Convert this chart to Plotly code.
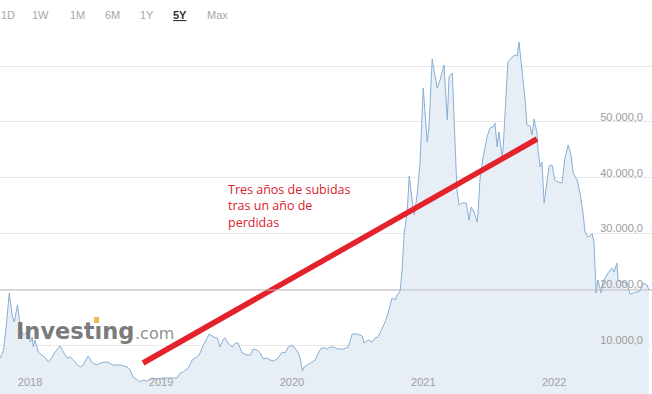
import plotly.graph_objects as go

# ---- data ----
dates = [
    "2017-11-13", "2017-11-22", "2017-11-30", "2017-12-08", "2017-12-17", "2017-12-22", "2017-12-31",
    "2018-01-08", "2018-01-16", "2018-01-27", "2018-02-05", "2018-02-10", "2018-02-13", "2018-02-18",
    "2018-02-27", "2018-03-10", "2018-03-19", "2018-03-27", "2018-04-07", "2018-04-15", "2018-04-29",
    "2018-05-08", "2018-05-19", "2018-05-27", "2018-06-05", "2018-06-16", "2018-06-24", "2018-07-02",
    "2018-07-16", "2018-07-28", "2018-08-10", "2018-08-19", "2018-09-07", "2018-09-24", "2018-10-14",
    "2018-11-02", "2018-11-10", "2018-11-18", "2018-11-30", "2018-12-08", "2018-12-16", "2018-12-27",
    "2019-01-11", "2019-01-25", "2019-02-10", "2019-03-02", "2019-03-21", "2019-03-30", "2019-04-07",
    "2019-04-21", "2019-05-02", "2019-05-16", "2019-05-24", "2019-06-02", "2019-06-13", "2019-06-19",
    "2019-06-30", "2019-07-11", "2019-07-19", "2019-07-28", "2019-08-02", "2019-08-10", "2019-08-22",
    "2019-08-30", "2019-09-07", "2019-09-18", "2019-10-02", "2019-10-11", "2019-10-19", "2019-10-30",
    "2019-11-08", "2019-11-16", "2019-11-27", "2019-12-05", "2019-12-14", "2019-12-25",
    "2020-01-02", "2020-01-08", "2020-01-16", "2020-01-25", "2020-02-05", "2020-02-13", "2020-02-21",
    "2020-02-27", "2020-03-04", "2020-03-09", "2020-03-18", "2020-03-26", "2020-04-09", "2020-04-17",
    "2020-04-26", "2020-05-07", "2020-05-12", "2020-05-21", "2020-05-29", "2020-06-12", "2020-06-26",
    "2020-07-10", "2020-07-21", "2020-08-04", "2020-08-18", "2020-08-23", "2020-09-04", "2020-09-15",
    "2020-09-23", "2020-10-01", "2020-10-12", "2020-10-21", "2020-10-29", "2020-11-09", "2020-11-18",
    "2020-11-23", "2020-11-29", "2020-12-02", "2020-12-07", "2020-12-10", "2020-12-13", "2020-12-21",
    "2020-12-27", "2021-01-04", "2021-01-10", "2021-01-18", "2021-01-26", "2021-02-04", "2021-02-15",
    "2021-02-20", "2021-03-01", "2021-03-06", "2021-03-15", "2021-03-23", "2021-03-31", "2021-04-03",
    "2021-04-12", "2021-04-17", "2021-04-26", "2021-05-01", "2021-05-09", "2021-05-15", "2021-05-23",
    "2021-06-04", "2021-06-12", "2021-06-17", "2021-06-26", "2021-07-04", "2021-07-07", "2021-07-12",
    "2021-07-21", "2021-08-01", "2021-08-09", "2021-08-18", "2021-08-23", "2021-08-29", "2021-09-03",
    "2021-09-12", "2021-09-15", "2021-09-28", "2021-10-10", "2021-10-18", "2021-10-24", "2021-10-29",
    "2021-11-06", "2021-11-15", "2021-11-20", "2021-11-29", "2021-12-04", "2021-12-10", "2021-12-18",
    "2021-12-21", "2021-12-27", "2022-01-01", "2022-01-07", "2022-01-15", "2022-01-21", "2022-01-29",
    "2022-02-06", "2022-02-15", "2022-02-26", "2022-03-06", "2022-03-15", "2022-03-23", "2022-03-29",
    "2022-04-09", "2022-04-17", "2022-04-25", "2022-05-01", "2022-05-09", "2022-05-21", "2022-05-26",
    "2022-06-01", "2022-06-06", "2022-06-15", "2022-06-20", "2022-07-04", "2022-07-15", "2022-07-21",
    "2022-07-29", "2022-08-01", "2022-08-15", "2022-08-26", "2022-09-03", "2022-09-12", "2022-09-23",
    "2022-10-01", "2022-10-10", "2022-10-21", "2022-10-26",
]
prices = [
    7700, 9140, 13620, 19350, 15050, 14160, 17200,
    13260, 11830, 12370, 10570, 11470, 9680, 10930,
    8780, 8240, 7710, 6990, 7890, 8780, 9860,
    8780, 7710, 7890, 7350, 6450, 6090, 6450,
    8060, 6810, 6450, 6810, 6990, 6450, 6450,
    6090, 5560, 4300, 3760, 3410, 3760, 3580,
    4120, 3940, 4120, 4120, 4120, 5020, 5200,
    5910, 7350, 7890, 8600, 10040, 11290, 12010,
    11470, 11290, 9680, 11110, 11290, 10390, 9680,
    10390, 10390, 8600, 8240, 8240, 9320, 9140,
    8600, 7530, 7710, 7350, 7170, 7530,
    8240, 8780, 8600, 9680, 10040, 9500, 8780,
    7710, 5380, 6090, 6450, 6810, 7350, 8600,
    9500, 9500, 9320, 9680, 9680, 9320, 9320,
    9680, 12010, 12010, 11650, 10390, 10930, 10570,
    11290, 11470, 13080, 14160, 15770, 18460, 18100,
    19000, 19350, 19890, 23480, 26520, 30110, 33690,
    40320, 36020, 33330, 36920, 42650, 56090, 46410,
    49100, 61290, 59320, 56090, 57520, 59850, 60210,
    50360, 58060, 58780, 51610, 37810, 35120, 35480,
    35480, 32440, 34770, 33870, 32080, 33870, 39600,
    43730, 47310, 48920, 49100, 49820, 45520, 48210,
    43730, 45520, 60750, 61650, 62000, 61820, 64330,
    59850, 53940, 49460, 49280, 47670, 50530, 48030,
    44980, 41930, 42830, 35480, 39600, 42110, 42290,
    39600, 39250, 39070, 43550, 45880, 44080, 40860,
    39600, 37270, 33870, 30290, 29390, 29930, 28490,
    19350, 21680, 19350, 21330, 22940, 23830, 23120,
    24730, 21680, 21330, 21150, 19170, 19350, 19530,
    19710, 21150, 20790, 19890,
]

trend_dates = ["2018-12-16", "2021-12-18"]
trend_values = [6810, 46950]

year_ticks = ["2018-01-01", "2019-01-01", "2020-01-01", "2021-01-01", "2022-01-01"]
year_labels = ["2018", "2019", "2020", "2021", "2022"]

price_ticks = [10000, 20000, 30000, 40000, 50000, 60000]
price_labels = ["10.000,0", "20.000,0", "30.000,0", "40.000,0", "50.000,0", ""]

range_buttons = ["1D", "1W", "1M", "6M", "1Y", "5Y", "Max"]
active_button = "5Y"
note_lines = ["Tres años de subidas", "tras un año de", "perdidas"]

W, H = 652, 394

fig = go.Figure()
fig.add_trace(go.Scatter(
    x=dates, y=prices, mode="lines",
    line=dict(color="#89afd4", width=1),
    fill="tozeroy", fillcolor="#e7eef5",
    hoverinfo="skip",
))
fig.add_trace(go.Scatter(
    x=trend_dates, y=trend_values, mode="lines",
    line=dict(color="#e3222b", width=5.5),
    hoverinfo="skip",
))

# last-price line
fig.add_shape(type="line", xref="paper", yref="y", x0=0, x1=1,
              y0=prices[-1], y1=prices[-1],
              line=dict(color="#bdbdbd", width=1))

# range selector texts
btn_x = [8, 40.5, 77.5, 112.5, 146.5, 180, 217]
for lab, px in zip(range_buttons, btn_x):
    if lab == active_button:
        txt = "<b><u>" + lab + "</u></b>"
        col = "#333333"
    else:
        txt = lab
        col = "#a8a8a8"
    fig.add_annotation(x=px / W, y=(H - 15.5) / H, xref="paper", yref="paper",
                       text=txt, showarrow=False, xanchor="center", yanchor="middle",
                       font=dict(family="Liberation Sans, Arial", size=11, color=col))

# watermark
fig.add_annotation(x=14 / W, y=(H - 331) / H, xref="paper", yref="paper",
                   text="<b>Investıng</b>", showarrow=False, xanchor="left", yanchor="middle",
                   font=dict(family="DejaVu Sans", size=22.5, color="rgba(105,105,105,0.9)"))
fig.add_annotation(x=133 / W, y=(H - 333) / H, xref="paper", yref="paper",
                   text=".com", showarrow=False, xanchor="left", yanchor="middle",
                   font=dict(family="DejaVu Sans", size=16, color="rgba(130,130,130,0.9)"))
fig.add_shape(type="rect", xref="paper", yref="paper",
              x0=94 / W, x1=99 / W, y0=(H - 323) / H, y1=(H - 317) / H,
              fillcolor="#f2b84b", line=dict(width=0))

# red note
fig.add_annotation(x=226 / W, y=(H - 206) / H, xref="paper", yref="paper",
                   text="<br>".join(note_lines), showarrow=False, align="left",
                   xanchor="left", yanchor="middle",
                   font=dict(family="Open Sans", size=12.5, color="#d8232d"))

fig.update_layout(
    width=W, height=H,
    margin=dict(l=0, r=0, t=0, b=0),
    paper_bgcolor="white", plot_bgcolor="white",
    showlegend=False,
    xaxis=dict(
        type="date",
        range=["2017-11-12 06:00", "2022-11-03 17:00"],
        tickvals=year_ticks, ticktext=year_labels,
        ticklabelposition="inside right",
        tickfont=dict(family="Liberation Sans, Arial", size=11, color="#a0a0a0"),
        showgrid=False, zeroline=False, showline=False, ticks="",
    ),
    yaxis=dict(
        side="right",
        range=[1254, 71859],
        tickvals=price_ticks, ticktext=price_labels,
        ticklabelposition="inside",
        ticklabelshift=-5,
        ticklabelstandoff=6,
        tickfont=dict(family="Liberation Sans, Arial", size=11, color="#9c9c9c"),
        showgrid=True, gridcolor="#e8e8e8", gridwidth=1,
        zeroline=False, showline=False, ticks="",
    ),
)

fig.write_html("out.html")
